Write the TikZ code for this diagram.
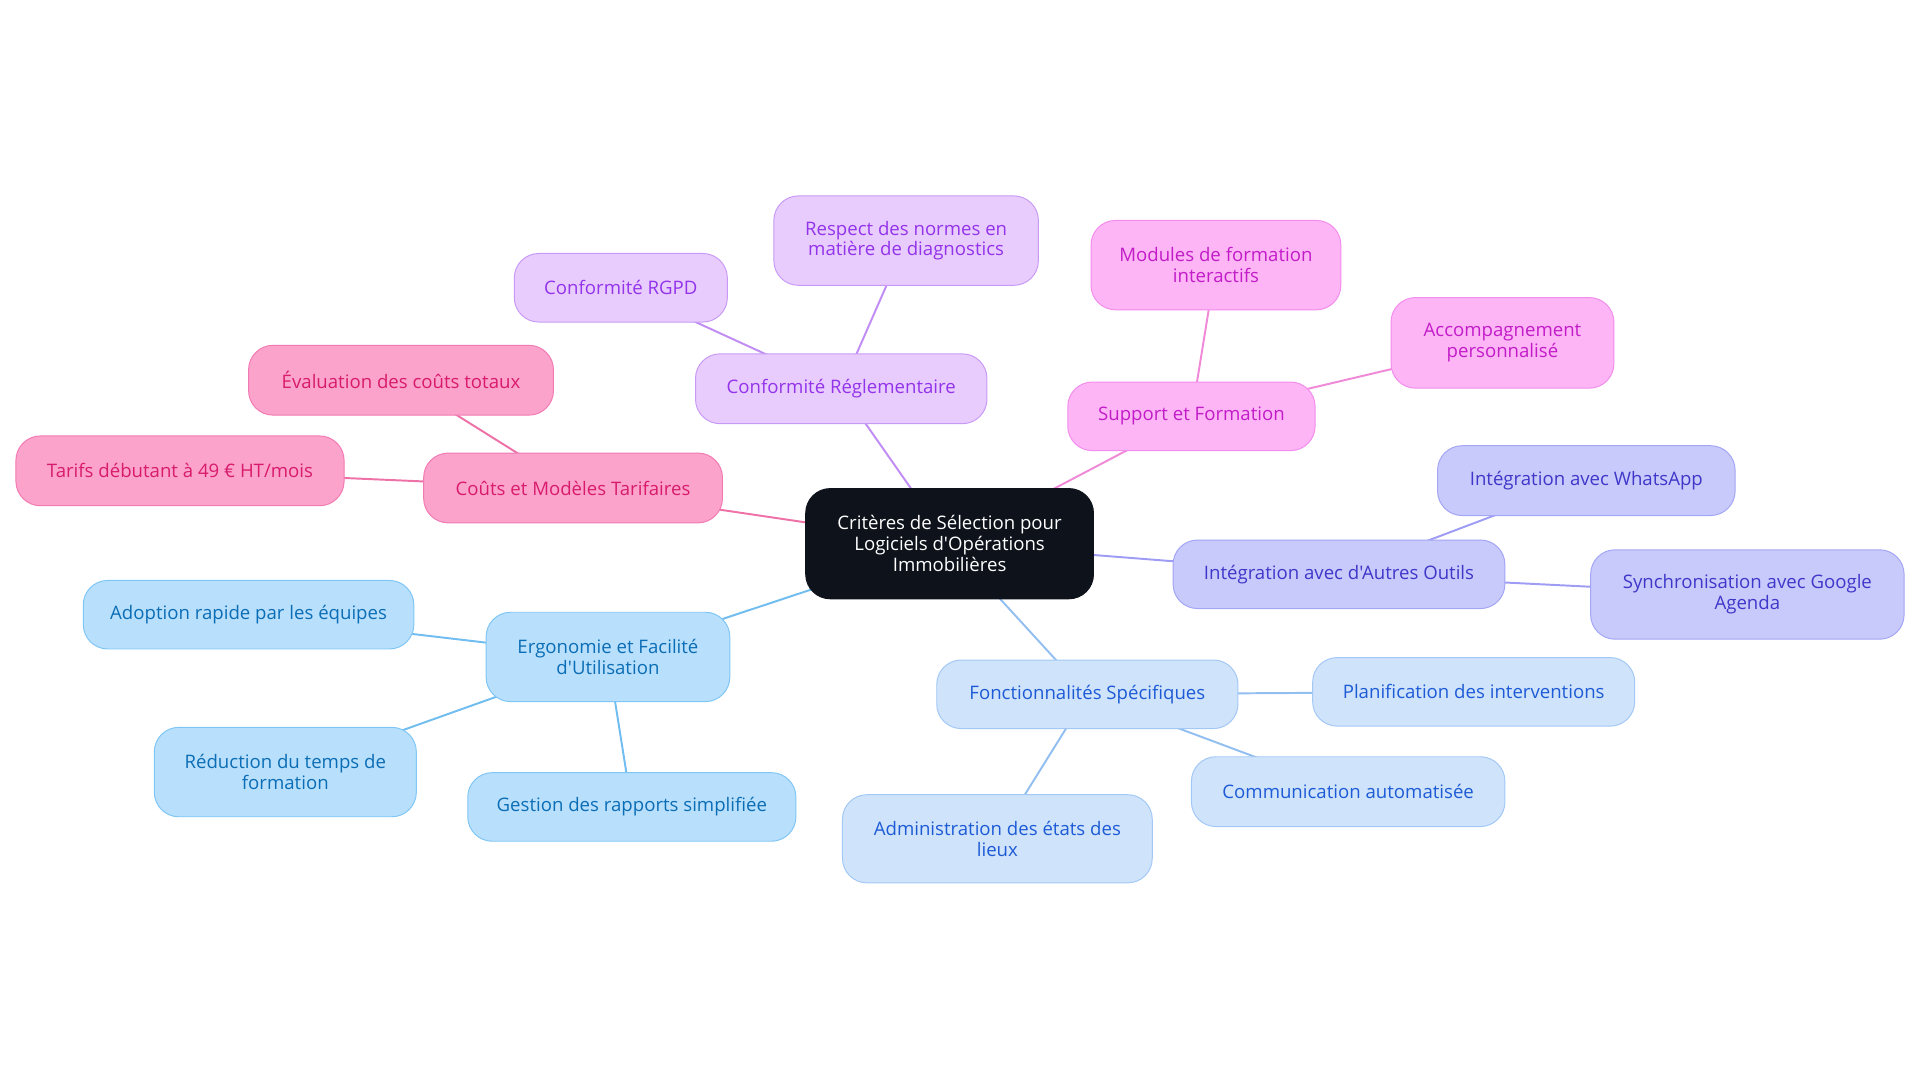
\documentclass[tikz,border=0pt]{standalone}
\usepackage{fontspec}
\setmainfont{Open Sans}[Ligatures=TeXOff]
\usetikzlibrary{backgrounds}
\definecolor{cfill}{HTML}{0D121B}
\definecolor{pkfill}{HTML}{FCA3CB}
\definecolor{pkdraw}{HTML}{F27AB3}
\definecolor{pktext}{HTML}{D81B6C}
\definecolor{pkedge}{HTML}{EE72A8}
\definecolor{pufill}{HTML}{E8CCFD}
\definecolor{pudraw}{HTML}{C99AF5}
\definecolor{putext}{HTML}{9333EA}
\definecolor{puedge}{HTML}{C28CF5}
\definecolor{mgfill}{HTML}{FDB5F6}
\definecolor{mgdraw}{HTML}{F28DEC}
\definecolor{mgtext}{HTML}{C21CC8}
\definecolor{mgedge}{HTML}{F08AD8}
\definecolor{pwfill}{HTML}{C8CAFB}
\definecolor{pwdraw}{HTML}{A3A5F5}
\definecolor{pwtext}{HTML}{3F37C9}
\definecolor{pwedge}{HTML}{9F9CF5}
\definecolor{lbfill}{HTML}{CFE3FB}
\definecolor{lbdraw}{HTML}{A3C8F5}
\definecolor{lbtext}{HTML}{1D5BD6}
\definecolor{lbedge}{HTML}{93BFF0}
\definecolor{skfill}{HTML}{B8E0FC}
\definecolor{skdraw}{HTML}{80C6F5}
\definecolor{sktext}{HTML}{0B6DB5}
\definecolor{skedge}{HTML}{72BDF0}
\tikzset{
  box/.style={rounded corners=20pt, draw, line width=0.8pt, inner sep=0pt, align=center,
    font=\fontsize{15.2}{17}\selectfont},
  center/.style={box, fill=cfill, draw=cfill, text=white},
  pk/.style={box, fill=pkfill, draw=pkdraw, text=pktext},
  pu/.style={box, fill=pufill, draw=pudraw, text=putext},
  mg/.style={box, fill=mgfill, draw=mgdraw, text=mgtext},
  pw/.style={box, fill=pwfill, draw=pwdraw, text=pwtext},
  lb/.style={box, fill=lbfill, draw=lbdraw, text=lbtext},
  sk/.style={box, fill=skfill, draw=skdraw, text=sktext},
  sz/.style 2 args={minimum width=#1pt, minimum height=#2pt},
  edge/.style={line width=1.6pt}
}
\begin{document}
\begin{tikzpicture}[x=1pt,y=-1pt]
\useasboundingbox (0,0) rectangle (1568,884.4);
% central
\node[center, sz={235}{90}] (c) at (775.5,444) {Critères de Sélection pour\\Logiciels d'Opérations\\Immobilières};
% purple branch
\node[pu, sz={238}{57}] (cr) at (687,317.5) {Conformité Réglementaire};
\node[pu, sz={174}{56}] (rgpd) at (507,235) {Conformité RGPD};
\node[pu, sz={216}{73}] (norm) at (740,196.5) {Respect des normes en\\matière de diagnostics};
% magenta branch
\node[mg, sz={202}{56}] (sf) at (973,340) {Support et Formation};
\node[mg, sz={204}{73}] (mod) at (993,216.5) {Modules de formation\\interactifs};
\node[mg, sz={182}{74}] (acc) at (1227,280) {Accompagnement\\personnalisé};
% pink branch
\node[pk, sz={244}{57}] (cout) at (468,398.5) {Coûts et Modèles Tarifaires};
\node[pk, sz={249}{57}] (eval) at (327.5,310.5) {Évaluation des coûts totaux};
\node[pk, sz={268}{57}] (tarif) at (147,384.5) {Tarifs débutant à 49 € HT/mois};
% periwinkle branch
\node[pw, sz={271}{56}] (int) at (1093.5,469) {Intégration avec d'Autres Outils};
\node[pw, sz={243}{57}] (wa) at (1295.5,392.5) {Intégration avec WhatsApp};
\node[pw, sz={256}{73}] (sync) at (1427,485.5) {Synchronisation avec Google\\Agenda};
% sky branch
\node[sk, sz={199}{73}] (ergo) at (496.5,536.5) {Ergonomie et Facilité\\d'Utilisation};
\node[sk, sz={270}{56}] (adop) at (203,502) {Adoption rapide par les équipes};
\node[sk, sz={214}{73}] (red) at (233,630.5) {Réduction du temps de\\formation};
\node[sk, sz={268}{56}] (gest) at (516,659) {Gestion des rapports simplifiée};
% light blue branch
\node[lb, sz={246}{56}] (fon) at (888,567) {Fonctionnalités Spécifiques};
\node[lb, sz={263}{56}] (plan) at (1203.5,565) {Planification des interventions};
\node[lb, sz={256}{57}] (comm) at (1101,646.5) {Communication automatisée};
\node[lb, sz={253}{72}] (adm) at (814.5,685) {Administration des états des\\lieux};
\begin{pgfonlayer}{background}
\draw[edge, puedge] (c.center) -- (cr.center);
\draw[edge, puedge] (cr.center) -- (rgpd.center);
\draw[edge, puedge] (cr.center) -- (norm.center);
\draw[edge, mgedge] (c.center) -- (sf.center);
\draw[edge, mgedge] (sf.center) -- (mod.center);
\draw[edge, mgedge] (sf.center) -- (acc.center);
\draw[edge, pkedge] (c.center) -- (cout.center);
\draw[edge, pkedge] (cout.center) -- (eval.center);
\draw[edge, pkedge] (cout.center) -- (tarif.center);
\draw[edge, pwedge] (c.center) -- (int.center);
\draw[edge, pwedge] (int.center) -- (wa.center);
\draw[edge, pwedge] (int.center) -- (sync.center);
\draw[edge, skedge] (c.center) -- (ergo.center);
\draw[edge, skedge] (ergo.center) -- (adop.center);
\draw[edge, skedge] (ergo.center) -- (red.center);
\draw[edge, skedge] (ergo.center) -- (gest.center);
\draw[edge, lbedge] (c.center) -- (fon.center);
\draw[edge, lbedge] (fon.center) -- (plan.center);
\draw[edge, lbedge] (fon.center) -- (comm.center);
\draw[edge, lbedge] (fon.center) -- (adm.center);
\end{pgfonlayer}
\end{tikzpicture}
\end{document}
